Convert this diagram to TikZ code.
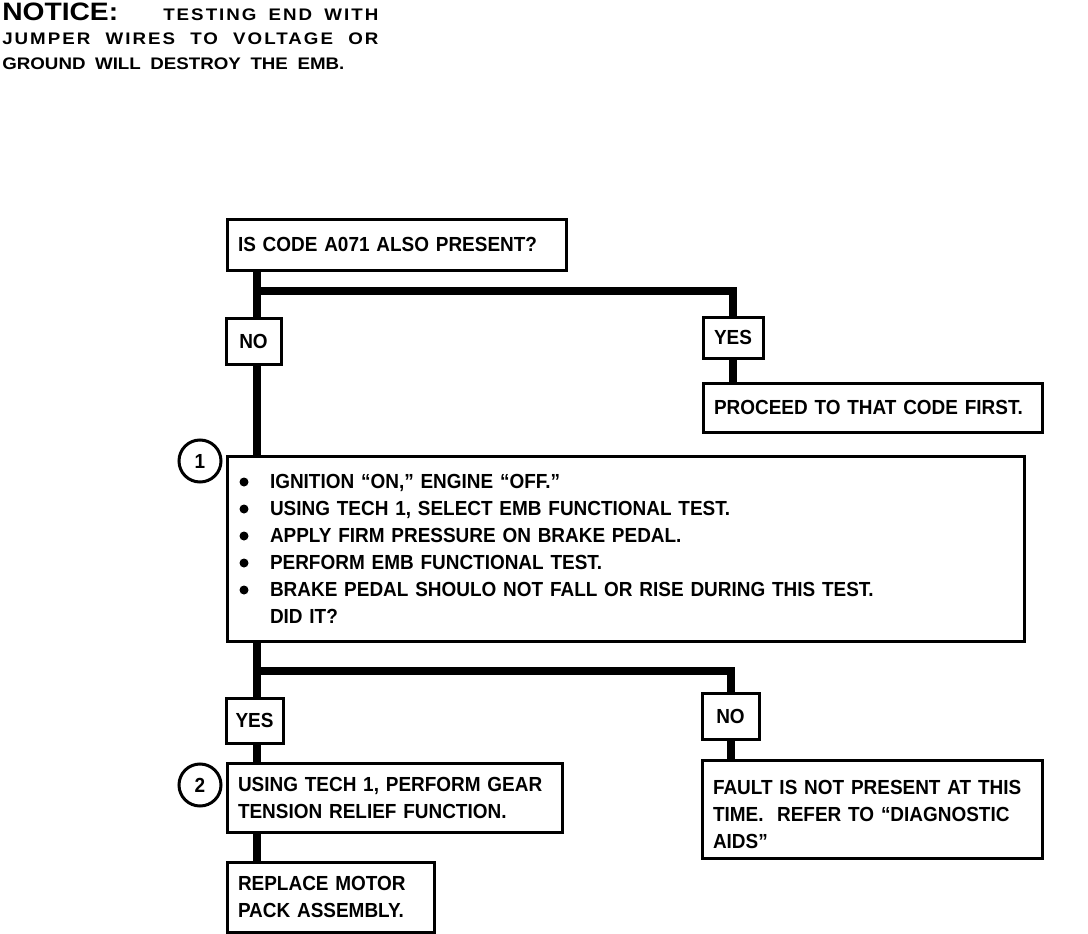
\documentclass[tikz,border=0pt]{standalone}
\usepackage{fontspec}
\setmainfont{Liberation Sans}[FakeStretch=0.93]
\newfontfamily\notefont{Liberation Sans}[FakeStretch=1.12]
\usetikzlibrary{positioning, calc}

\begin{document}
\begin{tikzpicture}[x=0.025cm, y=-0.025cm,
  box/.style={draw, line width=0.075cm, outer sep=0pt, anchor=north west,
    inner xsep=0.275cm, inner ysep=0pt, align=left,
    font=\fontsize{14.5}{19.2}\selectfont\bfseries},
  tag/.style={draw, line width=0.075cm, outer sep=0pt, anchor=north west,
    inner sep=0pt, align=center, font=\fontsize{14.5}{19.2}\selectfont\bfseries},
  wire/.style={line width=0.2cm},
  numcirc/.style={draw, circle, line width=0.075cm, minimum size=1.05cm,
    inner sep=0pt, font=\fontsize{14.5}{17}\selectfont\bfseries}]
  \useasboundingbox (0,0) rectangle (1088,934);
  % notice
  \node[anchor=base west, inner sep=0pt, font=\notefont\bfseries\fontsize{17.9}{20}\selectfont] (notice) at (2,20) {NOTICE:};
  \node[anchor=base west, inner sep=0pt, font=\notefont\bfseries\fontsize{11.9}{14}\selectfont] (note1) at (163,20)
    {\makebox[5.375cm][s]{\addfontfeature{LetterSpace=12}TESTING END WITH}};
  \node[anchor=base west, inner sep=0pt, font=\notefont\bfseries\fontsize{11.9}{14}\selectfont] (note2) at (2,44)
    {\makebox[9.4cm][s]{\addfontfeature{LetterSpace=12}JUMPER WIRES TO VOLTAGE OR}};
  \node[anchor=base west, inner sep=0pt, font=\notefont\bfseries\fontsize{11.9}{14}\selectfont] (note3) at (2,69)
    {\makebox[8.55cm][s]{GROUND WILL DESTROY THE EMB.}};
  % boxes
  \node[box, text width=7.925cm, minimum height=1.275cm] (code) at (227,219) {IS CODE A071 ALSO PRESENT?};
  \node[tag, minimum width=1.375cm, minimum height=1.15cm] (no1) at (226,318) {NO};
  \node[tag, minimum width=1.5cm, minimum height=1.025cm] (yes1) at (703,317) {YES};
  \node[box, text width=7.925cm, minimum height=1.225cm] (proceed) at (703,383) {PROCEED TO THAT CODE FIRST.};
  \node[box, text width=19.375cm, minimum height=4.625cm] (test) at (227,456)
    {\hspace*{0.8cm}IGNITION ``ON,'' ENGINE ``OFF.''\\
     \hspace*{0.8cm}USING TECH 1, SELECT EMB FUNCTIONAL TEST.\\
     \hspace*{0.8cm}APPLY FIRM PRESSURE ON BRAKE PEDAL.\\
     \hspace*{0.8cm}PERFORM EMB FUNCTIONAL TEST.\\
     \hspace*{0.8cm}BRAKE PEDAL SHOULO NOT FALL OR RISE DURING THIS TEST.\\
     \hspace*{0.8cm}DID IT?};
  \foreach \k in {0,...,4}
    \fill (244,{482+27*\k}) circle (4.5);
  \node[tag, minimum width=1.425cm, minimum height=1.125cm] (yes2) at (226,698) {YES};
  \node[tag, minimum width=1.425cm, minimum height=1.15cm] (no2) at (702,693) {NO};
  \node[box, text width=7.825cm, minimum height=1.725cm] (gear) at (227,763)
    {\mbox{USING TECH 1, PERFORM GEAR}\\\mbox{TENSION RELIEF FUNCTION.}};
  \node[box, text width=4.625cm, minimum height=1.75cm] (motor) at (227,862)
    {REPLACE MOTOR\\PACK ASSEMBLY.};
  \node[box, text width=7.95cm, minimum height=2.45cm] (fault) at (702,760)
    {\rule{0pt}{18pt}FAULT IS NOT PRESENT AT THIS\\TIME.\ \ REFER TO ``DIAGNOSTIC\\AIDS''};
  \node[numcirc] (c1) at (200,461) {1};
  \node[numcirc] (c2) at (200,785) {2};
  % connectors
  \coordinate (j1) at (257,291);
  \coordinate (j2) at (257,671);
  \draw[wire] (code.south -| j1) -- (no1.north -| j1);
  \draw[wire] (j1) -| (yes1.north);
  \draw[wire] (yes1.south) -- (proceed.north -| yes1.south);
  \draw[wire] (no1.south -| j1) -- (test.north -| j1);
  \draw[wire] (test.south -| j2) -- (yes2.north -| j2);
  \draw[wire] (j2) -| (no2.north);
  \draw[wire] (no2.south) -- (fault.north -| no2.south);
  \draw[wire] (yes2.south -| j2) -- (gear.north -| j2);
  \draw[wire] (gear.south -| j2) -- (motor.north -| j2);
\end{tikzpicture}
\end{document}
